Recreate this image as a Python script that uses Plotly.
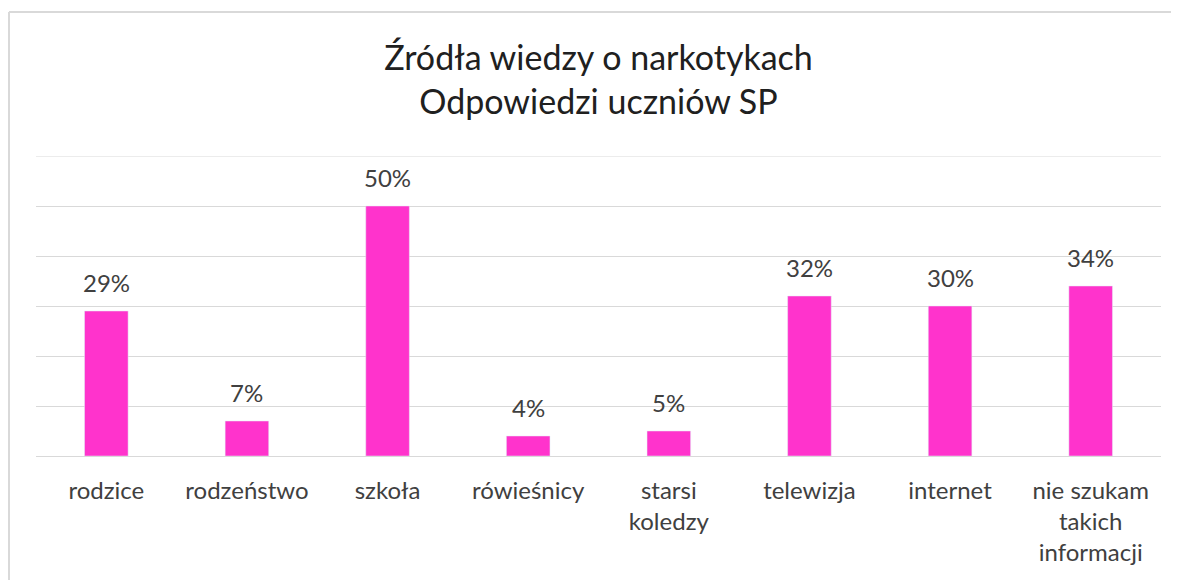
import plotly.graph_objects as go

categories = ["rodzice", "rodzeństwo", "szkoła", "rówieśnicy", "starsi<br>koledzy",
              "telewizja", "internet", "nie szukam<br>takich<br>informacji"]
values = [29, 7, 50, 4, 5, 32, 30, 34]
title_lines = ["Źródła wiedzy o narkotykach", "Odpowiedzi uczniów SP"]

# page body has an 8px margin, so figure coordinates = screen - 8
OFF = 8
W, H = 1179 - OFF, 580 - OFF
L, T = 36 - OFF, 156 - OFF
R = W - (1161 - OFF)
B = H - (456 - OFF)
pw, ph = W - L - R, H - T - B
FONT = "Lato, 'Open Sans', sans-serif"
TXT = "#404040"
BORDER = "#D9D9D9"

fig = go.Figure(go.Bar(
    x=categories, y=values, marker_color="#FF33CC", width=0.31,
    hoverinfo="skip",
))

for c, v in zip(categories, values):
    fig.add_annotation(x=c, y=v, text=f"{v}%", showarrow=False, yanchor="bottom",
                       yshift=12, font=dict(size=24, color=TXT, family=FONT))

# top gridline at the range end
fig.add_shape(type="line", xref="paper", yref="y", x0=0, x1=1, y0=60, y1=60,
              line=dict(color=BORDER, width=1), layer="below")

# outer chart border (top and left edges; the rest lies outside the picture)
bx0 = (1 - L) / pw
by1 = 1 + (T - 4) / ph
fig.add_shape(type="line", xref="paper", yref="paper",
              x0=bx0, x1=(W + 60 - L) / pw, y0=by1, y1=by1,
              line=dict(color=BORDER, width=2), layer="below")
fig.add_shape(type="line", xref="paper", yref="paper",
              x0=bx0, x1=bx0, y0=-(H + 60 - T - ph) / ph, y1=by1,
              line=dict(color=BORDER, width=2), layer="below")

fig.update_layout(
    width=W, height=H,
    margin=dict(l=L, r=R, t=T, b=B, autoexpand=False),
    paper_bgcolor="white", plot_bgcolor="white",
    title=dict(text="<br>".join(title_lines), x=0.5, xref="paper", xanchor="center",
               y=1 - 62 / H, yanchor="top",
               font=dict(size=34, color="#202020", family=FONT)),
    showlegend=False,
    bargap=0.69,
    xaxis=dict(showgrid=False, showline=False, ticks="outside", ticklen=13,
               tickcolor="rgba(0,0,0,0)", automargin=False,
               tickfont=dict(size=24, color=TXT, family=FONT), fixedrange=True),
    yaxis=dict(range=[0, 60], dtick=10, showticklabels=False, showgrid=True,
               gridcolor="#D9D9D9", gridwidth=1, zeroline=True, zerolinecolor="#D9D9D9",
               zerolinewidth=1, showline=False, fixedrange=True, automargin=False),
)

fig.write_html("out.html")
